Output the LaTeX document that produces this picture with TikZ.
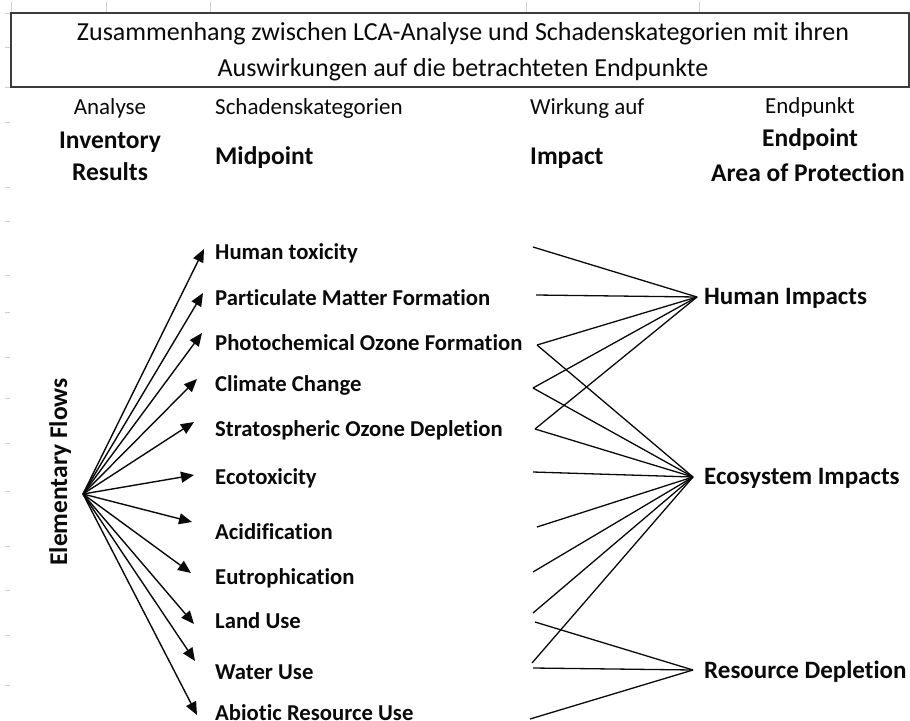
\documentclass[tikz,border=0pt]{standalone}
\usepackage{fontspec}
\setmainfont{Carlito}[Ligatures=NoCommon]
\usetikzlibrary{arrows.meta}
\definecolor{boxgray}{HTML}{3C3C3C}
\definecolor{gridgray}{HTML}{CFCFCF}
\definecolor{txt}{HTML}{0A0A0A}
\tikzset{
  ttl/.style={font=\fontsize{26}{30}\selectfont, text=txt, inner sep=0pt, anchor=base},
  hdr/.style={font=\fontsize{23}{27}\selectfont, text=txt, inner sep=0pt},
  hdrb/.style={font=\bfseries\fontsize{25.5}{30}\selectfont, text=txt, inner sep=0pt},
  midlabel/.style={font=\bfseries\fontsize{22.7}{27}\selectfont, text=txt, inner sep=0pt, anchor=base west},
  endlabel/.style={font=\bfseries\fontsize{25}{30}\selectfont, text=txt, inner sep=0pt, anchor=base west},
  flow/.style={line width=1.4pt, draw=txt, -{Triangle[length=13pt,width=11pt]}},
  link/.style={line width=1.3pt, draw=txt},
  gridtick/.style={line width=1pt, draw=gridgray}
}
\begin{document}
\begin{tikzpicture}[x=1pt, y=-1pt]
\useasboundingbox[fill=white] (0,0) rectangle (910,720);
% faint spreadsheet grid ticks
\foreach \yy in {13,47,87,122,187,221,275,312,357,398,443,491,546,590,635,685}
  \draw[gridtick] (5,\yy) -- (10,\yy);
\foreach \xx in {11,106,210,526,699}
  \draw[gridtick] (\xx,2) -- (\xx,12);
% title box
\draw[line width=2pt, draw=boxgray] (11,13) rectangle (909,87);
\node[ttl] (title1) at (463,40.7) {Zusammenhang zwischen LCA-Analyse und Schadenskategorien mit ihren};
\node[ttl] (title2) at (463,76) {Auswirkungen auf die betrachteten Endpunkte};
% column headers
\node[hdr, anchor=base] (hA) at (110,114.3) {Analyse};
\node[hdr, anchor=base west] (hS) at (215,114.3) {Schadenskategorien};
\node[hdr, anchor=base west] (hW) at (530,114.3) {Wirkung auf};
\node[hdr, anchor=base] (hE) at (810,113.3) {Endpunkt};
\node[hdrb, anchor=base] (inv) at (110,148.1) {Inventory};
\node[hdrb, anchor=base] (res) at (110,180.1) {Results};
\node[hdrb, anchor=base west] (midp) at (215,164.1) {Midpoint};
\node[hdrb, anchor=base west] (imp) at (530,164.1) {Impact};
\node[hdrb, anchor=base] (endp) at (810,146.1) {Endpoint};
\node[hdrb, anchor=base] (aop) at (808,181.1) {Area of Protection};
% elementary flows
\node[hdrb, rotate=90, anchor=base] (ef) at (67,472) {Elementary Flows};
% midpoint categories
\node[midlabel] (m1) at (215,259.2) {Human toxicity};
\node[midlabel] (m2) at (215,305.2) {Particulate Matter Formation};
\node[midlabel] (m3) at (215,350.2) {Photochemical Ozone Formation};
\node[midlabel] (m4) at (215,391.2) {Climate Change};
\node[midlabel] (m5) at (215,436.2) {Stratospheric Ozone Depletion};
\node[midlabel] (m6) at (215,484.2) {Ecotoxicity};
\node[midlabel] (m7) at (215,539.2) {Acidification};
\node[midlabel] (m8) at (215,584.2) {Eutrophication};
\node[midlabel] (m9) at (215,628.2) {Land Use};
\node[midlabel] (m10) at (215,679.2) {Water Use};
\node[midlabel] (m11) at (215,720.2) {Abiotic Resource Use};
% endpoint labels
\node[endlabel] (eH) at (704,304.9) {Human Impacts};
\node[endlabel] (eE) at (704,484.9) {Ecosystem Impacts};
\node[endlabel] (eR) at (704,678.9) {Resource Depletion};
% arrow origin and tips
\coordinate (o) at (83,494);
\coordinate (t1) at (204,249);
\coordinate (t2) at (203,293);
\coordinate (t3) at (202,333);
\coordinate (t4) at (197,379);
\coordinate (t5) at (194,422);
\coordinate (t6) at (194,475);
\coordinate (t7) at (192,522);
\coordinate (t8) at (191,573);
\coordinate (t9) at (194,624);
\coordinate (t10) at (195,661);
\coordinate (t11) at (197,715);
\foreach \i in {1,...,11} \draw[flow] (o) -- (t\i);
% hubs
\coordinate (hH) at (697,297);
\coordinate (hEc) at (693,477);
\coordinate (hR) at (693,670);
% left ends of impact links
\coordinate (l1) at (533,247);
\coordinate (l2) at (536,295);
\coordinate (l3) at (537,345);
\coordinate (l4) at (533,388);
\coordinate (l5) at (535,429);
\coordinate (l6) at (533,472);
\coordinate (l7) at (537,527);
\coordinate (l8) at (533,572);
\coordinate (l9) at (533,613);
\coordinate (l9b) at (535,622);
\coordinate (l10) at (532,663);
\coordinate (l10b) at (533,668);
\coordinate (l11) at (530,719);
\foreach \p in {l1,l2,l3,l4,l5} \draw[link] (\p) -- (hH);
\foreach \p in {l3,l4,l5,l6,l7,l8,l9,l10} \draw[link] (\p) -- (hEc);
\foreach \p in {l9b,l10b,l11} \draw[link] (\p) -- (hR);
\end{tikzpicture}
\end{document}
